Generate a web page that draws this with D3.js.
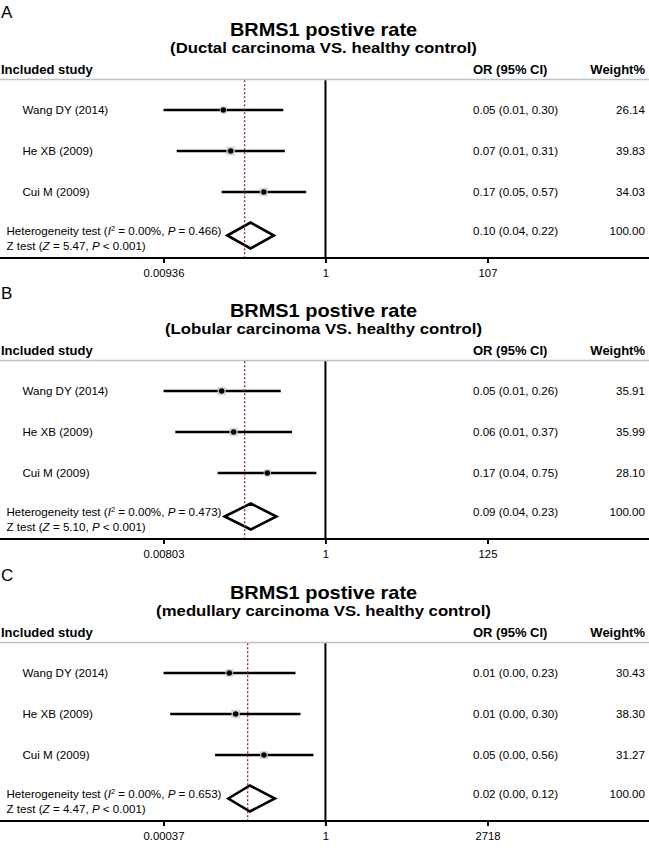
<!DOCTYPE html>
<html><head><meta charset="utf-8">
<script src="https://cdn.jsdelivr.net/npm/d3@7"></script>
<style>
body{margin:0;background:#fff}
svg{display:block;background:#fff}
text{font-family:"Liberation Sans",Arial,Helvetica,sans-serif;fill:#000}
</style>
</head><body>
<svg id="chart" width="649" height="863"></svg>
<script>
// ---------- data ----------
const panelLetters = ["A", "B", "C"];
const panelTitle = "BRMS1 postive rate";
const subtitles = [
  "(Ductal carcinoma VS. healthy control)",
  "(Lobular carcinoma VS. healthy control)",
  "(medullary carcinoma VS. healthy control)"
];
const studies = ["Wang DY (2014)", "He XB (2009)", "Cui M (2009)"];

// odds ratios and 95% CI as drawn
const orA = [0.0526, 0.065, 0.169];
const lowA = [0.00936, 0.0137, 0.050];
const highA = [0.296, 0.31, 0.574];
const orB = [0.0454, 0.0649, 0.177];
const lowB = [0.00803, 0.0114, 0.0403];
const highB = [0.264, 0.369, 0.764];
const orC = [0.00918, 0.01253, 0.0497];
const lowC = [0.00037, 0.000513, 0.00458];
const highC = [0.232, 0.296, 0.558];

// pooled estimate (dashed line) and diamond [low, centre, high]
const pooled = [0.097, 0.090, 0.0225];
const diamondA = [0.059, 0.115, 0.226];
const diamondB = [0.0496, 0.108, 0.232];
const diamondC = [0.00875, 0.0251, 0.0848];

// printed texts
const orTextA = ["0.05 (0.01, 0.30)", "0.07 (0.01, 0.31)", "0.17 (0.05, 0.57)", "0.10 (0.04, 0.22)"];
const orTextB = ["0.05 (0.01, 0.26)", "0.06 (0.01, 0.37)", "0.17 (0.04, 0.75)", "0.09 (0.04, 0.23)"];
const orTextC = ["0.01 (0.00, 0.23)", "0.01 (0.00, 0.30)", "0.05 (0.00, 0.56)", "0.02 (0.00, 0.12)"];
const weightA = [26.14, 39.83, 34.03, 100.00];
const weightB = [35.91, 35.99, 28.10, 100.00];
const weightC = [30.43, 38.30, 31.27, 100.00];
const hetP = ["0.466", "0.473", "0.653"];
const zStat = ["5.47", "5.10", "4.47"];

// axis ticks
const ticksA = [0.00936, 1, 107];
const ticksB = [0.00803, 1, 125];
const ticksC = [0.00037, 1, 2718];
const tickLabelsA = ["0.00936", "1", "107"];
const tickLabelsB = ["0.00803", "1", "125"];
const tickLabelsC = ["0.00037", "1", "2718"];

const panels = [
  {or: orA, lo: lowA, hi: highA, dia: diamondA, orText: orTextA, w: weightA, ticks: ticksA, tl: tickLabelsA},
  {or: orB, lo: lowB, hi: highB, dia: diamondB, orText: orTextB, w: weightB, ticks: ticksB, tl: tickLabelsB},
  {or: orC, lo: lowC, hi: highC, dia: diamondC, orText: orTextC, w: weightC, ticks: ticksC, tl: tickLabelsC}
];

// ---------- layout ----------
const W = 649;
const panelTop = [0, 281, 563];
const sepY = 79.5, axisY = 258, rowStart = 110, rowStep = 41, diaY = 235.5, diaH = 13;
const plotL = 163.5, plotR = 487.5;
const bodySize = 11.6;
const fmtW = d3.format(".2f");

const svg = d3.select("#chart");
svg.append("rect").attr("width", W).attr("height", 863).attr("fill", "#fff");

function txt(g, s, x, y, opts) {
  const o = Object.assign({size: bodySize, weight: "normal", anchor: "start", sx: 1}, opts || {});
  return g.append("text")
    .attr("transform", `translate(${x},${y}) scale(${o.sx},1)`)
    .attr("font-size", o.size)
    .attr("font-weight", o.weight)
    .attr("text-anchor", o.anchor)
    .text(s);
}

panels.forEach((p, k) => {
  const g = svg.append("g").attr("transform", `translate(0,${panelTop[k]})`);
  const x = d3.scaleLog().domain([p.ticks[0], p.ticks[2]]).range([plotL, plotR]);
  const rowY = i => rowStart + i * rowStep;

  // titles
  txt(g, panelLetters[k], 1, 18, {size: 17});
  txt(g, panelTitle, 323.5, 36, {size: 19, weight: "bold", anchor: "middle", sx: 1.05});
  txt(g, subtitles[k], 323.5, 53, {size: 15.5, weight: "bold", anchor: "middle", sx: 1.08});

  // header
  txt(g, "Included study", 1, 74, {size: 13, weight: "bold"});
  txt(g, "OR (95% CI)", 473, 74, {size: 13, weight: "bold"});
  txt(g, "Weight%", 645, 74, {size: 13, weight: "bold", anchor: "end"});
  g.append("line").attr("x1", 0).attr("x2", W).attr("y1", sepY).attr("y2", sepY)
    .attr("stroke", "#bcc5ce").attr("stroke-width", 1.6);

  // null line
  g.append("line").attr("x1", x(1)).attr("x2", x(1)).attr("y1", sepY + 0.8).attr("y2", axisY)
    .attr("stroke", "#000").attr("stroke-width", 2);

  // study rows
  const rows = studies.map((s, i) => ({s, i, or: p.or[i], lo: p.lo[i], hi: p.hi[i], w: p.w[i], t: p.orText[i]}));
  g.selectAll(".ci").data(rows).join("line")
    .attr("x1", d => x(d.lo)).attr("x2", d => x(d.hi))
    .attr("y1", d => rowY(d.i)).attr("y2", d => rowY(d.i))
    .attr("stroke", "#000").attr("stroke-width", 2.6);
  g.selectAll(".box").data(rows).join("rect")
    .attr("x", d => x(d.or) - Math.sqrt(d.w) * 0.7)
    .attr("y", d => rowY(d.i) - Math.sqrt(d.w) * 0.7)
    .attr("width", d => Math.sqrt(d.w) * 1.4)
    .attr("height", d => Math.sqrt(d.w) * 1.4)
    .attr("fill", "#c9cdd0").attr("opacity", 0.8);
  g.selectAll(".dot").data(rows).join("circle")
    .attr("cx", d => x(d.or)).attr("cy", d => rowY(d.i)).attr("r", 2.7).attr("fill", "#000");

  rows.forEach(d => {
    txt(g, d.s, 22.5, rowY(d.i) + 4);
    txt(g, d.t, 473, rowY(d.i) + 4);
    txt(g, fmtW(d.w), 645, rowY(d.i) + 4, {anchor: "end"});
  });

  // diamond
  const dm = p.dia;
  g.append("path")
    .attr("d", `M${x(dm[0])},${diaY}L${x(dm[1])},${diaY - diaH}L${x(dm[2])},${diaY}L${x(dm[1])},${diaY + diaH}Z`)
    .attr("fill", "none").attr("stroke", "#000").attr("stroke-width", 2.6).attr("stroke-linejoin", "miter");

  // pooled dashed line
  g.append("line").attr("x1", x(pooled[k])).attr("x2", x(pooled[k]))
    .attr("y1", sepY + 0.8).attr("y2", axisY)
    .attr("stroke", "#8c2443").attr("stroke-width", 1.3).attr("stroke-dasharray", "2,2");

  // pooled texts
  const het = txt(g, "", 6.5, 235);
  het.append("tspan").text("Heterogeneity test (");
  het.append("tspan").attr("font-style", "italic").text("I");
  het.append("tspan").attr("font-size", 7.5).attr("dy", -4).text("2");
  het.append("tspan").attr("dy", 4).text(" = 0.00%, ");
  het.append("tspan").attr("font-style", "italic").text("P");
  het.append("tspan").text(` = ${hetP[k]})`);
  const zt = txt(g, "", 6.5, 249.5);
  zt.append("tspan").text("Z test (");
  zt.append("tspan").attr("font-style", "italic").text("Z");
  zt.append("tspan").text(` = ${zStat[k]}, `);
  zt.append("tspan").attr("font-style", "italic").text("P");
  zt.append("tspan").text(" < 0.001)");
  txt(g, p.orText[3], 473, 235);
  txt(g, fmtW(p.w[3]), 645, 235, {anchor: "end"});

  // axis
  g.append("line").attr("x1", 0).attr("x2", W).attr("y1", axisY).attr("y2", axisY)
    .attr("stroke", "#000").attr("stroke-width", 2);
  const ax = d3.axisBottom(x).tickValues(p.ticks).tickFormat((d, i) => p.tl[i])
    .tickSize(5).tickSizeOuter(0).tickPadding(6);
  const ag = g.append("g").attr("transform", `translate(0,${axisY})`).call(ax);
  ag.select(".domain").remove();
  ag.selectAll(".tick line").attr("stroke", "#000").attr("stroke-width", 2);
  ag.selectAll(".tick text").attr("font-size", 11.3).attr("fill", "#000")
    .attr("font-family", '"Liberation Sans",Arial,sans-serif');
});
</script>
</body></html>
